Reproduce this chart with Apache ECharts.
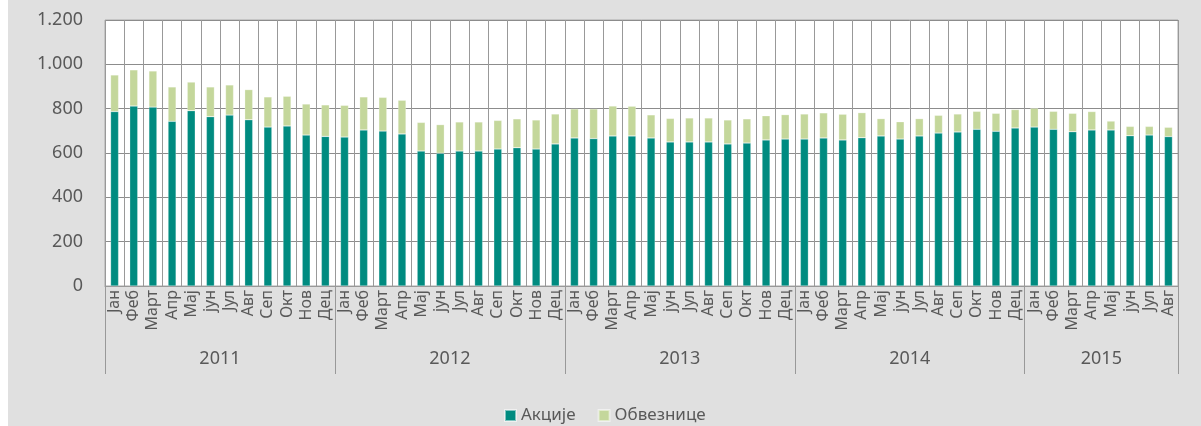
<!DOCTYPE html>
<html>
<head>
<meta charset="utf-8">
<script src="https://cdn.jsdelivr.net/npm/echarts@6/dist/echarts.min.js"></script>
<style>
	html, body {margin: 0; padding: 0; background: #fff;}
	#main {position: absolute; left: 8px; top: 0; width: 1193px; height: 426px; background: #e0e0e0;}
</style>
</head>
<body>
<div id="main"></div>
<script>
var years = ['2011', '2012', '2013', '2014', '2015'];
var monthsPerYear = [12, 12, 12, 12, 8];
var monthNames = ['Јан', 'Феб', 'Март', 'Апр', 'Мај', 'јун', 'Јул', 'Авг', 'Сеп', 'Окт', 'Нов', 'Дец'];

// Акције
var akcije = [
	787, 812, 807, 743, 791, 764, 771, 750, 717, 722, 681, 675,
	672, 704, 699, 686, 609, 599, 609, 609, 618, 624, 618, 641,
	668, 665, 677, 677, 668, 650, 650, 650, 641, 645, 659, 663,
	663, 668, 659, 669, 677, 663, 677, 690, 695, 707, 698, 713,
	717, 707, 696, 704, 704, 678, 681, 674
];
// Обвезнице
var obveznice = [
	165, 163, 163, 155, 129, 134, 136, 136, 136, 134, 140, 142,
	143, 149, 152, 152, 129, 129, 131, 131, 129, 130, 131, 135,
	131, 134, 135, 134, 104, 106, 108, 108, 108, 109, 109, 110,
	113, 113, 116, 113, 78, 78, 78, 80, 81, 81, 81, 83,
	85, 81, 83, 83, 40, 42, 39, 42
];

var categories = [];
var yearStart = [0];
var yearMid = [];
years.forEach(function(y, i) {
	for (var m = 0; m < monthsPerYear[i]; m++) {
		categories.push(monthNames[m]);
	}
	yearMid.push(yearStart[i] + monthsPerYear[i] / 2);
	yearStart.push(yearStart[i] + monthsPerYear[i]);
});

var textColor = '#595959';
var lineColor = '#999999';

var myChart = echarts.init(document.getElementById('main'));
option = {
	animation: false,
	color: ['#008b80', '#c4d79b'],
	textStyle: {fontFamily: 'Noto Sans', color: textColor},
	grid: {
		left: 97,
		right: 23,
		top: 20,
		bottom: 140,
		show: true,
		backgroundColor: '#ffffff',
		borderColor: '#aaaaaa',
		borderWidth: 1
	},
	legend: {
		data: ['Акције', 'Обвезнице'],
		left: 491,
		top: 402,
		icon: 'rect',
		itemWidth: 11,
		itemHeight: 11,
		itemGap: 22,
		textStyle: {fontSize: 17, color: textColor, fontFamily: 'Noto Sans'}
	},
	xAxis: [{
		type: 'category',
		data: categories,
		axisLine: {show: true, lineStyle: {color: lineColor}},
		axisTick: {show: false},
		splitLine: {show: true, interval: 0, lineStyle: {color: lineColor, width: 1}},
		axisLabel: {
			interval: 0,
			rotate: 90,
			margin: 4,
			fontSize: 16,
			color: textColor,
			fontFamily: 'Noto Sans'
		}
	}, {
		type: 'value',
		min: 0,
		max: categories.length,
		position: 'bottom',
		axisLine: {show: false},
		splitLine: {show: false},
		axisTick: {
			show: true,
			length: 88,
			customValues: yearStart,
			lineStyle: {color: lineColor}
		},
		axisLabel: {
			show: true,
			customValues: yearMid,
			margin: 64,
			fontSize: 18,
			color: textColor,
			formatter: function(v) {
				var i = yearMid.indexOf(v);
				return i >= 0 ? years[i] : '';
			}
		}
	}],
	yAxis: {
		type: 'value',
		min: 0,
		max: 1200,
		interval: 200,
		axisLine: {show: false},
		axisTick: {show: false},
		splitLine: {lineStyle: {color: '#8c8c8c', width: 1}},
		axisLabel: {
			margin: 22,
			fontSize: 18,
			color: textColor,
			formatter: function(v) {
				return String(v).replace(/\B(?=(\d{3})+(?!\d))/g, '.');
			}
		}
	},
	series: [{
		name: 'Акције',
		type: 'bar',
		stack: 'total',
		barWidth: 8,
		itemStyle: {borderColor: 'rgba(255,255,255,0.5)', borderWidth: 0.5},
		data: akcije
	}, {
		name: 'Обвезнице',
		type: 'bar',
		stack: 'total',
		barWidth: 8,
		itemStyle: {borderColor: 'rgba(255,255,255,0.5)', borderWidth: 0.5},
		data: obveznice
	}]
};
myChart.setOption(option);
</script>
</body>
</html>
